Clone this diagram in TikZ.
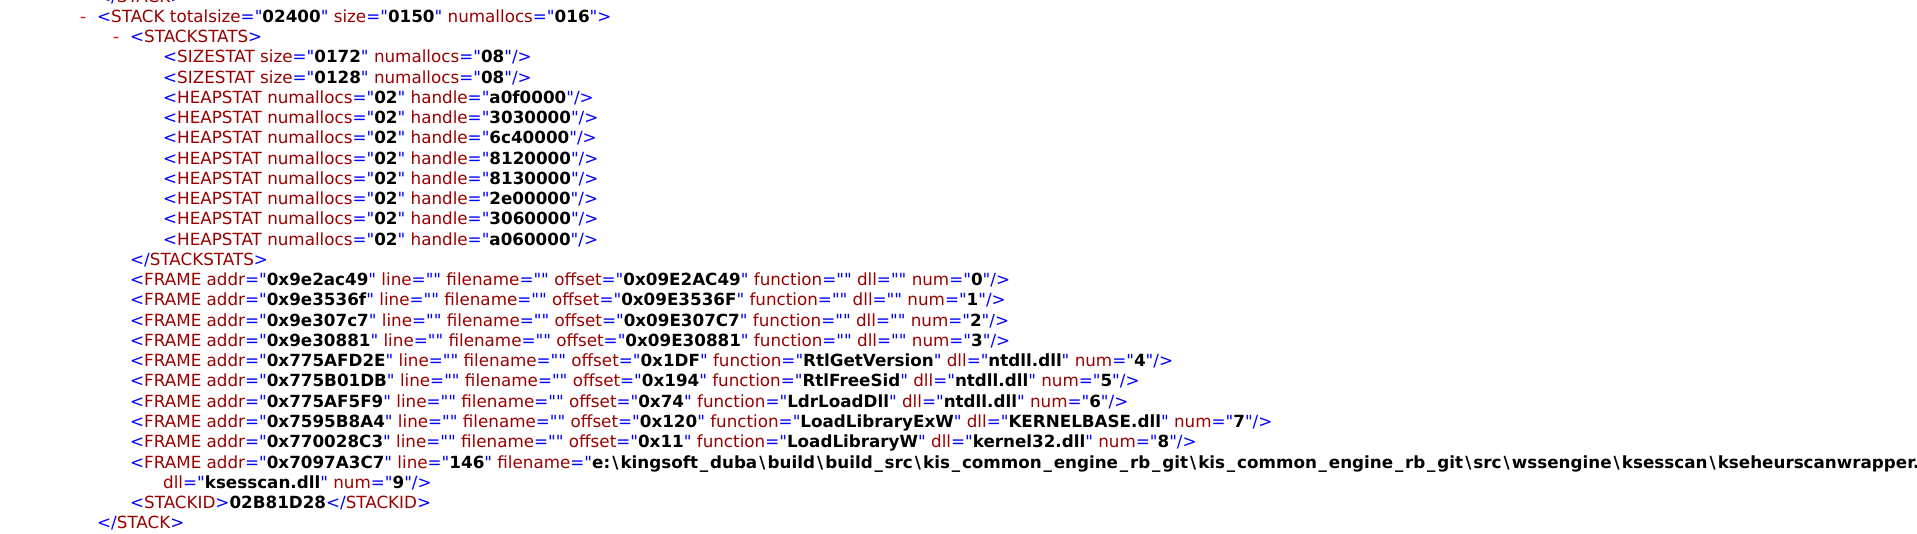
\documentclass[tikz,border=0pt]{standalone}
\usepackage{fontspec}
\setmainfont{DejaVu Sans}[Ligatures=TeXOff]
\newfontfamily\monof{Liberation Mono}[Ligatures=TeXOff]
\definecolor{mk}{HTML}{0000FF}
\definecolor{tn}{HTML}{990000}
\definecolor{tgl}{HTML}{FF0000}
\newcommand\Lt{\textcolor{mk}{<}}
\newcommand\Ct{\textcolor{mk}{</}}
\newcommand\Gt{\textcolor{mk}{>}}
\newcommand\Et{\textcolor{mk}{/>}}
\newcommand\Nm[1]{\textcolor{tn}{#1}}
\newcommand\At[2]{ \Nm{#1}\textcolor{mk}{="}\textbf{#2}\textcolor{mk}{"}}
\newcommand\bs{\hspace{2.1pt}\textbackslash\hspace{2.1pt}}
\newcommand\us{\hspace{1.8pt}\_\hspace{1.8pt}}
\newcommand\Hs[1]{\Lt\Nm{HEAPSTAT}\At{numallocs}{02}\At{handle}{#1}\Et}
\newcommand\Fr[5]{\Lt\Nm{FRAME}\At{addr}{#1}\At{line}{}\At{filename}{}\At{offset}{#2}\At{function}{#3}\At{dll}{#4}\At{num}{#5}\Et}
\tikzset{
  ln/.style={anchor=base west, inner sep=0pt, font=\fontsize{16.75}{19}\selectfont},
  tog/.style={anchor=base west, inner sep=0pt, text=tgl, font=\fontsize{16.75}{19}\selectfont\monof}
}
\begin{document}
\begin{tikzpicture}[x=1pt,y=-1pt]
\fill[white] (0,0) rectangle (1917,534);
\useasboundingbox (0,0) rectangle (1917,534);
\clip (0,0) rectangle (1917,534);
\node[ln] (l00) at (97,2.25) {\Ct\Nm{STACK}\Gt};
\node[tog] (t0) at (78,22.5) {-};
\node[ln] (l01) at (97,22.5) {\Lt\Nm{STACK}\At{totalsize}{02400}\At{size}{0150}\At{numallocs}{016}\Gt};
\node[tog] (t1) at (111,42.75) {-};
\node[ln] (l02) at (130,42.75) {\Lt\Nm{STACKSTATS}\Gt};
\node[ln] (l03) at (163,63) {\Lt\Nm{SIZESTAT}\At{size}{0172}\At{numallocs}{08}\Et};
\node[ln] (l04) at (163,83.25) {\Lt\Nm{SIZESTAT}\At{size}{0128}\At{numallocs}{08}\Et};
\node[ln] (l05) at (163,103.5) {\Hs{a0f0000}};
\node[ln] (l06) at (163,123.75) {\Hs{3030000}};
\node[ln] (l07) at (163,144) {\Hs{6c40000}};
\node[ln] (l08) at (163,164.25) {\Hs{8120000}};
\node[ln] (l09) at (163,184.5) {\Hs{8130000}};
\node[ln] (l10) at (163,204.75) {\Hs{2e00000}};
\node[ln] (l11) at (163,225) {\Hs{3060000}};
\node[ln] (l12) at (163,245.25) {\Hs{a060000}};
\node[ln] (l13) at (130,265.5) {\Ct\Nm{STACKSTATS}\Gt};
\node[ln] (l14) at (130,285.75) {\Fr{0x9e2ac49}{0x09E2AC49}{}{}{0}};
\node[ln] (l15) at (130,306) {\Fr{0x9e3536f}{0x09E3536F}{}{}{1}};
\node[ln] (l16) at (130,326.25) {\Fr{0x9e307c7}{0x09E307C7}{}{}{2}};
\node[ln] (l17) at (130,346.5) {\Fr{0x9e30881}{0x09E30881}{}{}{3}};
\node[ln] (l18) at (130,366.75) {\Fr{0x775AFD2E}{0x1DF}{RtlGetVersion}{ntdll.dll}{4}};
\node[ln] (l19) at (130,387) {\Fr{0x775B01DB}{0x194}{RtlFreeSid}{ntdll.dll}{5}};
\node[ln] (l20) at (130,407.25) {\Fr{0x775AF5F9}{0x74}{LdrLoadDll}{ntdll.dll}{6}};
\node[ln] (l21) at (130,427.5) {\Fr{0x7595B8A4}{0x120}{LoadLibraryExW}{KERNELBASE.dll}{7}};
\node[ln] (l22) at (130,447.75) {\Fr{0x770028C3}{0x11}{LoadLibraryW}{kernel32.dll}{8}};
\node[ln] (l23) at (130,468) {\Lt\Nm{FRAME}\At{addr}{0x7097A3C7}\At{line}{146}\At{filename}{e:\bs kingsoft\us duba\bs build\bs build\us src\bs kis\us common\us engine\us rb\us git\bs kis\us common\us engine\us rb\us git\bs src\bs wssengine\bs ksesscan\bs kseheurscanwrapper.cpp}};
\node[ln] (l24) at (163,488.25) {\Nm{dll}\textcolor{mk}{="}\textbf{ksesscan.dll}\textcolor{mk}{"}\At{num}{9}\Et};
\node[ln] (l25) at (130,508.5) {\Lt\Nm{STACKID}\Gt\textbf{02B81D28}\Ct\Nm{STACKID}\Gt};
\node[ln] (l26) at (97,528.75) {\Ct\Nm{STACK}\Gt};
\end{tikzpicture}
\end{document}
